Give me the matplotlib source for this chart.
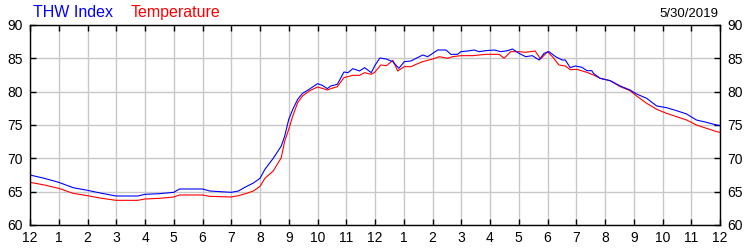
import matplotlib
matplotlib.use('Agg')
import matplotlib.pyplot as plt

plt.rcParams['font.family'] = ['Liberation Sans', 'DejaVu Sans']

# THW index (blue), hours since midnight
thw_hours = [0, 0.5, 1, 1.5, 2, 2.5, 3, 3.5, 3.75, 4, 4.5, 5, 5.2, 6, 6.25, 7, 7.25,
             7.45, 7.77, 8, 8.17, 8.46, 8.74, 8.86, 9.0, 9.14, 9.31, 9.48, 9.71, 10.0,
             10.17, 10.34, 10.46, 10.69, 10.92, 11.06, 11.23, 11.46, 11.64, 11.87, 12.0,
             12.17, 12.39, 12.62, 12.83, 13.02, 13.25, 13.43, 13.66, 13.83, 14.01, 14.18,
             14.47, 14.64, 14.87, 14.99, 15.22, 15.45, 15.62, 15.86, 16.14, 16.38, 16.61,
             16.78, 17.01, 17.24, 17.47, 17.71, 17.88, 18.05, 18.28, 18.51, 18.62, 18.79,
             18.97, 19.2, 19.37, 19.54, 19.6, 19.83, 20.18, 20.53, 20.87, 21.1, 21.45,
             21.8, 22.14, 22.49, 22.84, 23.18, 23.53, 23.88, 24]
thw = [67.5, 67.0, 66.4, 65.6, 65.2, 64.75, 64.35, 64.35, 64.35, 64.6, 64.7, 64.9, 65.4,
       65.4, 65.1, 64.9, 65.1, 65.6, 66.3, 67.0, 68.35, 70.0, 71.85, 73.35, 75.85, 77.35,
       78.85, 79.75, 80.35, 81.2, 80.95, 80.45, 80.85, 81.1, 82.95, 82.85, 83.45, 83.1,
       83.6, 82.85, 83.95, 85.05, 84.9, 84.5, 83.5, 84.5, 84.6, 85.0, 85.5, 85.25, 85.75,
       86.25, 86.25, 85.6, 85.6, 86.0, 86.1, 86.25, 86.0, 86.15, 86.25, 86.0, 86.15, 86.4,
       85.75, 85.25, 85.4, 84.75, 85.75, 86.0, 85.25, 84.75, 84.75, 83.6, 83.85, 83.65,
       83.15, 83.15, 82.75, 82.0, 81.65, 80.85, 80.25, 79.65, 79.0, 77.85, 77.6, 77.15,
       76.65, 75.75, 75.4, 75.0, 74.9]

# temperature (red)
temp_hours = [0, 0.5, 1, 1.5, 2, 2.5, 3, 3.5, 3.75, 4, 4.5, 5, 5.2, 6, 6.25, 7, 7.25,
              7.5, 7.77, 8, 8.17, 8.46, 8.74, 8.86, 9.0, 9.14, 9.31, 9.48, 9.71, 10.0,
              10.2, 10.34, 10.46, 10.69, 10.92, 11.23, 11.46, 11.64, 11.87, 12.0, 12.2,
              12.4, 12.62, 12.79, 13.02, 13.25, 13.43, 13.66, 14.01, 14.24, 14.53, 14.7,
              14.99, 15.4, 15.86, 16.32, 16.49, 16.72, 17.01, 17.24, 17.57, 17.76, 18.0,
              18.17, 18.4, 18.62, 18.79, 19.02, 19.37, 19.6, 19.83, 20.18, 20.53, 20.87,
              21.1, 21.45, 21.8, 22.14, 22.49, 22.84, 23.18, 23.53, 23.88, 24]
temp = [66.4, 66.0, 65.5, 64.75, 64.4, 64.0, 63.7, 63.7, 63.7, 63.9, 64.0, 64.2, 64.5,
        64.5, 64.3, 64.2, 64.4, 64.7, 65.1, 65.8, 67.0, 68.1, 70.1, 72.6, 74.35, 76.35,
        78.35, 79.35, 80.1, 80.7, 80.45, 80.25, 80.45, 80.75, 82.1, 82.45, 82.45, 82.85,
        82.6, 82.95, 84.0, 83.9, 84.7, 83.1, 83.75, 83.75, 84.1, 84.5, 84.9, 85.25, 85.0,
        85.25, 85.4, 85.4, 85.6, 85.6, 85.0, 86.0, 86.0, 85.9, 86.1, 84.9, 86.0, 85.25,
        84.0, 83.85, 83.3, 83.35, 82.9, 82.5, 82.0, 81.65, 80.75, 80.15, 79.35, 78.25,
        77.35, 76.75, 76.25, 75.75, 75.0, 74.5, 74.0, 73.9]

x_ticks = list(range(0, 25))
x_labels = ['12'] + [str(i) for i in range(1, 12)] + ['12'] + [str(i) for i in range(1, 12)] + ['12']
y_ticks = [60, 65, 70, 75, 80, 85, 90]

fig = plt.figure(figsize=(7.5, 2.5), dpi=100)
ax = fig.add_axes([30 / 750, 25 / 250, 690 / 750, 200 / 250])

ax.plot(temp_hours, temp, color='#ff0000', lw=0.8)
ax.plot(thw_hours, thw, color='#0000ff', lw=0.8)

ax.set_xlim(0, 24)
ax.set_ylim(60, 90)
ax.set_xticks(x_ticks)
ax.set_xticklabels(x_labels)
ax.set_yticks(y_ticks)
ax.grid(True, color='#c8c8c8', lw=1)
ax.set_axisbelow(True)

ax.tick_params(axis='both', direction='in', length=4, width=1, color='black',
               labelsize=10, top=True, right=True, labelright=True)
ax.tick_params(axis='x', pad=4)
ax.tick_params(axis='y', pad=5)
for s in ax.spines.values():
    s.set_linewidth(1)
    s.set_color('black')

fig.text(33 / 750, 1 - 17 / 250, 'THW Index', color='#0000ff', fontsize=11.5, va='baseline')
fig.text(131 / 750, 1 - 17 / 250, 'Temperature', color='#ff0000', fontsize=11.5, va='baseline')
fig.text(718 / 750, 1 - 17 / 250, '5/30/2019', color='black', fontsize=9.5, va='baseline', ha='right')

fig.savefig('out.png', dpi=100)
